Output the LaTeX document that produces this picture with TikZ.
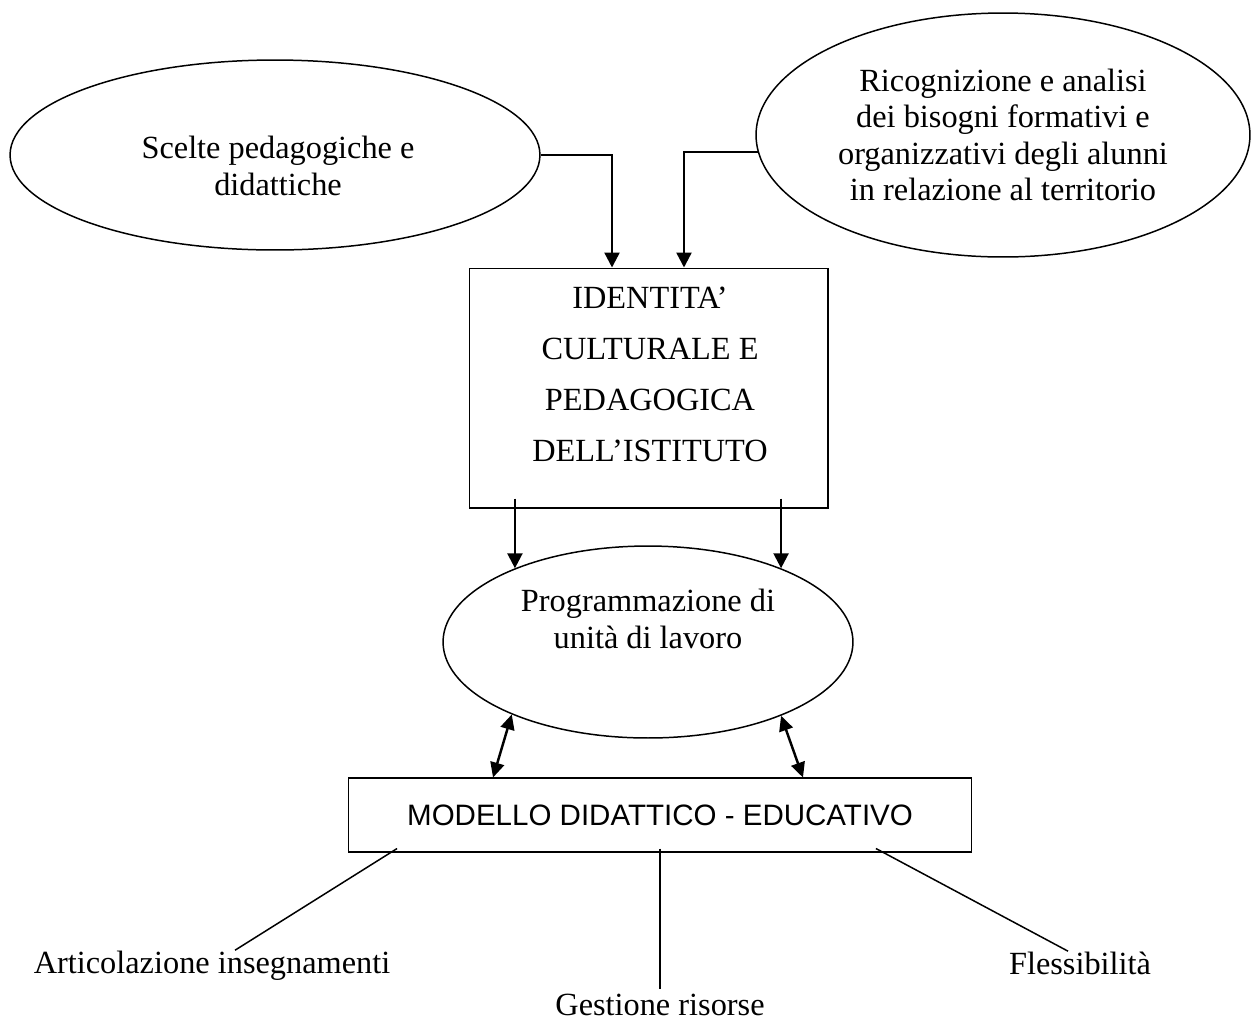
\documentclass[tikz,border=0pt]{standalone}
\usepackage{fontspec}
\setmainfont{Liberation Serif}
\newfontfamily\arialfont{Liberation Sans}
\usetikzlibrary{shapes.geometric,arrows.meta}

\begin{document}
\begin{tikzpicture}[x=0.02cm, y=-0.02cm,
    every node/.style={font=\fontsize{18.4}{20.6}\selectfont},
    oval/.style={draw, ellipse, line width=0.85pt, inner sep=0pt, align=center},
    flow/.style={-{Triangle[width=0.3cm,length=0.3cm]}, line width=1.4pt},
    twoway/.style={{Triangle[width=0.28cm,length=0.3cm]}-{Triangle[width=0.28cm,length=0.3cm]}, line width=1.4pt},
    branch/.style={line width=0.85pt},
    leaf/.style={anchor=base, inner sep=0pt}]
    \useasboundingbox (0,0) rectangle (1253,1022);

    % top ovals and identity box
    \node[oval, minimum width=10.6cm, minimum height=3.8cm] (scelte) at (275,155) {};
    \node[align=center] (sceltetxt) at (278,166) {Scelte pedagogiche e\\didattiche};
    \node[oval, minimum width=9.88cm, minimum height=4.88cm] (ricog) at (1003,135)
        {Ricognizione e analisi\\dei bisogni formativi e\\organizzativi degli alunni\\in relazione al territorio};
    \node[draw, line width=0.6pt, minimum width=7.18cm, minimum height=4.8cm] (ident) at (648.5,388) {};
    \node[align=center, font=\fontsize{18.4}{29}\selectfont] (identtxt) at (650,374)
        {IDENTITA'\\CULTURALE E\\PEDAGOGICA\\DELL'ISTITUTO};

    % programmazione
    \node[oval, minimum width=8.2cm, minimum height=3.84cm] (prog) at (648,642) {};
    \node[align=center] (progtxt) at (648,619) {Programmazione di\\unità di lavoro};

    % modello
    \node[draw, line width=0.6pt, minimum width=12.48cm, minimum height=1.48cm,
        font=\arialfont\fontsize{16.8}{19}\selectfont] (modello) at (660,815)
        {MODELLO DIDATTICO - EDUCATIVO};

    \node[leaf] (artic) at (212,973) {Articolazione insegnamenti};
    \node[leaf] (gest) at (660,1015) {Gestione risorse};
    \node[leaf] (fless) at (1080,974) {Flessibilità};

    % connectors
    \draw[flow] (scelte.east) -| ([xshift=-0.73cm]ident.north);
    \draw[flow] (ricog.184) -| ([xshift=0.71cm]ident.north);
    \draw[flow] ([yshift=0.2cm]prog.151 |- ident.south) -- (prog.151);
    \draw[flow] ([yshift=0.2cm]prog.29 |- ident.south) -- (prog.29);
    \draw[twoway] (prog.208.8) -- ([xshift=-3.34cm]modello.north);
    \draw[twoway] (prog.331.5) -- ([xshift=2.86cm]modello.north);

    \draw[branch] ([xshift=-5.26cm,yshift=0.08cm]modello.south) -- ([xshift=0.46cm]artic.north);
    \draw[branch] ([yshift=0.08cm]modello.south) -- ([yshift=0.08cm]gest.north);
    \draw[branch] ([xshift=4.32cm,yshift=0.08cm]modello.south) -- ([xshift=-0.24cm]fless.north);
\end{tikzpicture}
\end{document}
